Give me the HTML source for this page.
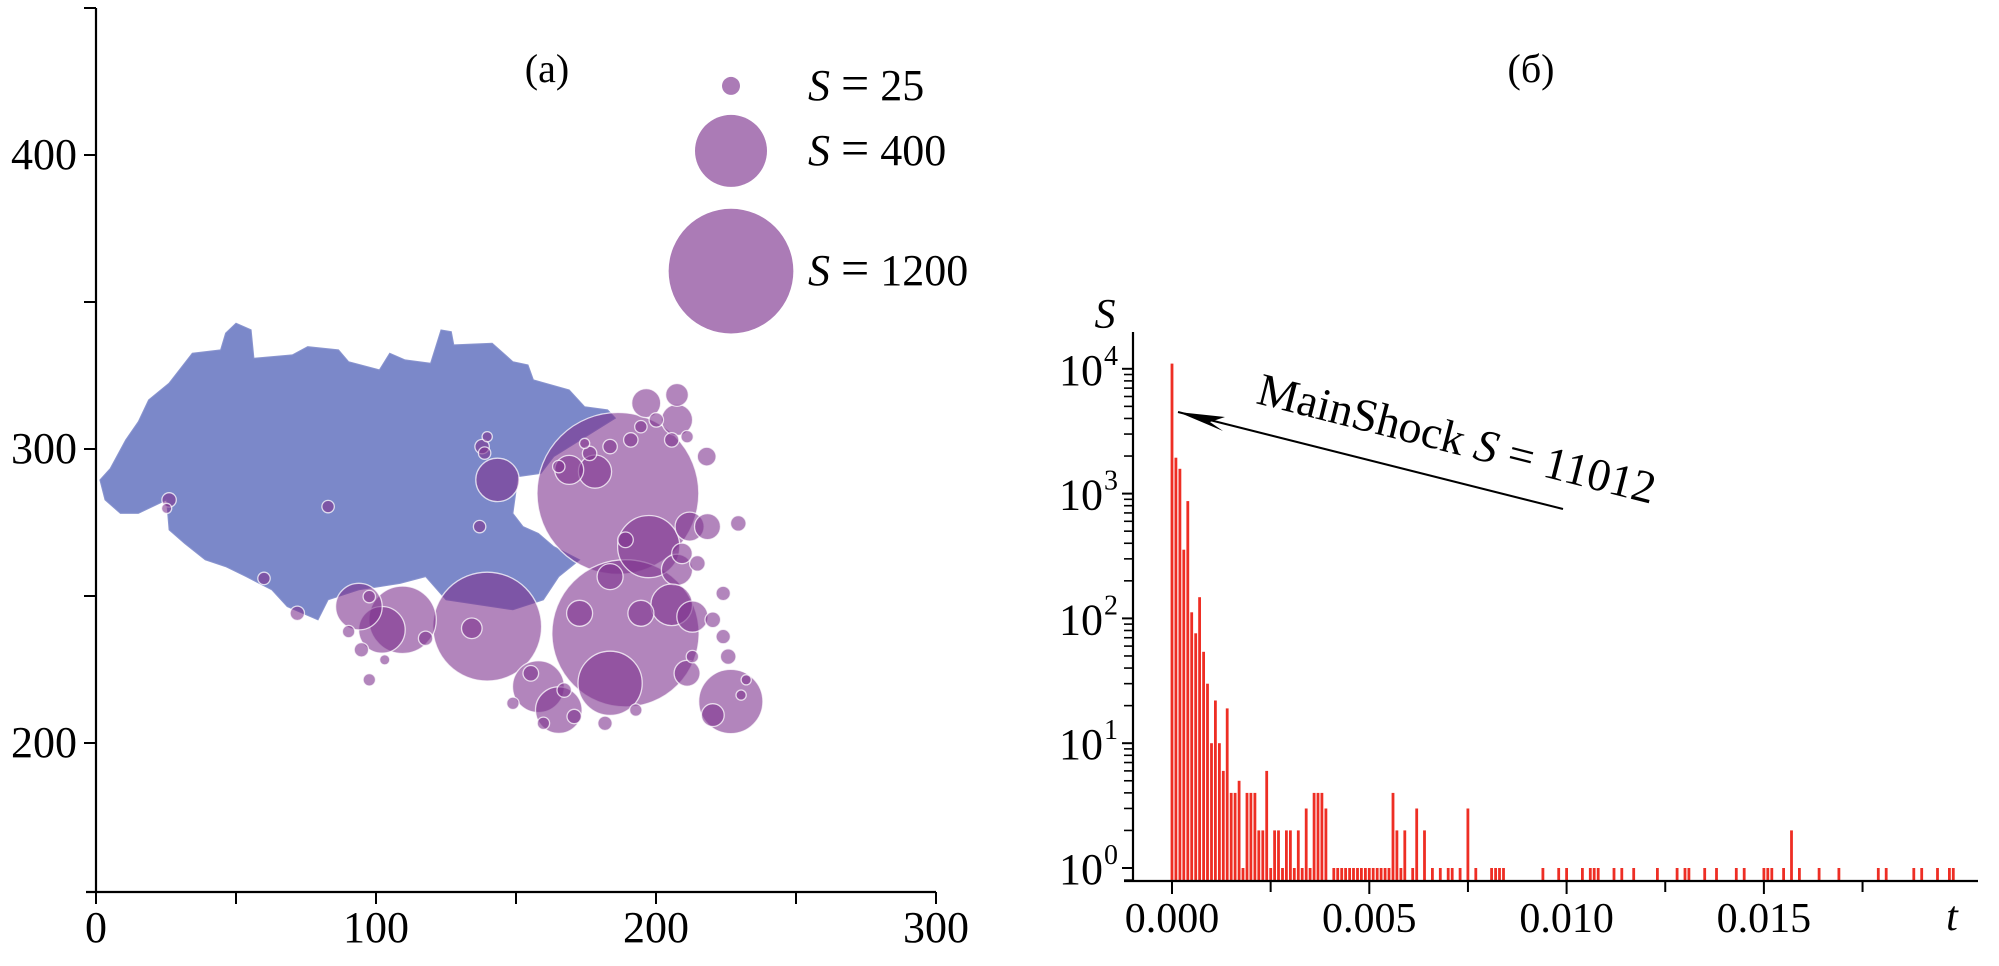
<!DOCTYPE html>
<html><head><meta charset="utf-8">
<style>
html,body{margin:0;padding:0;background:#fff;}
svg{display:block;font-family:"Liberation Serif","DejaVu Serif",serif;}
</style></head>
<body>
<svg id="fig" width="1999" height="966" viewBox="0 0 1999 966" xmlns="http://www.w3.org/2000/svg">
  <g id="left"></g>
  <g id="right"></g>
</svg>
<script>
// ---------- Panel (a) data ----------
const xTicksA = [0, 100, 200, 300];
const yTicksA = [200, 300, 400];
const xMinorA = [50, 150, 250];
const yMinorA = [250, 350, 450];
// blob outline (data coords)
const blobU = [1.4,5.1,10.6,15.1,18.8,26.1,34.4,44.5,46.3,50.0,55.4,56.4,70.1,75.6,86.6,90.2,101.2,104.9,110.4,119.5,123.2,126.9,127.8,141.5,148.9,154.3,156.2,169.0,174.5,182.7,185.5,163.5,158.9,150.7,148.9,152.5,158.0,163.5,172.7,165.3,159.8,148.9,125.0,117.7,108.6,93.9,82.9,79.3,68.3,62.8,53.6,46.3,39.0,31.6,26.1,25.2,15.1,8.7,3.2];
const blobV = [289.5,293.4,303.1,309.3,316.7,322.4,332.6,333.7,339.4,342.8,340.5,330.9,332.0,334.8,333.7,329.7,326.9,332.6,330.3,329.2,340.5,339.9,335.4,336.0,329.7,328.6,323.5,320.1,314.4,313.3,310.5,297.4,291.7,290.6,278.1,273.6,271.3,266.8,262.3,256.6,248.7,245.3,248.7,256.6,254.3,252.1,248.7,241.9,246.4,252.1,256.6,260.0,262.3,267.9,272.5,282.7,278.1,278.1,282.7];
// events (centre u, v and size S)
const evU = [186.4,189.1,139.7,109.5,102.1,93.9,143.4,197.4,183.6,226.7,158.0,165.3,196.5,207.5,178.2,169.0,212.0,218.4,207.5,205.6,213.0,172.7,194.6,134.2,207.5,218.1,225.8,211.1,220.3,183.6,189.1,
 209.3,214.8,220.3,224.0,229.4,224.0,167.2,170.8,192.8,159.8,155.3,148.9,176.3,183.6,191.0,194.6,200.1,211.1,165.3,174.5,137.9,139.7,138.8,137.0,117.7,90.2,94.8,97.6,103.1,97.6,71.9,82.9,26.1,25.2,60.0,232.2,230.4,213.0,181.8,205.6];
const evV = [284.9,237.3,239.6,241.9,238.5,246.4,289.5,266.8,220.3,214.1,219.2,211.2,315.6,309.9,292.3,292.9,273.6,273.6,258.9,247.0,243.0,244.1,244.1,239.0,318.4,297.4,229.4,223.7,209.5,256.6,269.1,
 264.5,261.1,241.9,250.9,274.7,236.2,218.0,209.0,211.2,206.7,223.7,213.5,298.5,300.8,303.1,307.6,309.9,304.2,294.0,301.9,300.8,304.2,298.6,273.6,235.6,237.9,231.7,221.5,228.3,249.8,244.1,280.4,282.7,279.8,256.0,221.5,216.3,229.4,206.7,303.1];
const evS = [2020,1673,914,350,168,168,146,299,319,319,207,168,65,75,85,65,65,52,75,133,75,52,52,33,40,27,19,52,40,52,19,
 33,19,19,16,19,16,16,16,12,12,19,12,16,16,16,12,16,12,12,8,16,8,12,12,16,12,16,12,8,12,16,12,16,8,12,8,8,12,16,16];
const legendS = [25, 400, 1200];
const legendV = [423.5, 401.4, 360.5];

// ---------- Panel (b) data ----------
const yDecades = [0, 1, 2, 3, 4];
const xTickB = [0.000, 0.005, 0.010, 0.015];
const xTickBLabels = ["0.000", "0.005", "0.010", "0.015"];
const xMinorB = [0.0025, 0.0075, 0.0125, 0.0175];
const barT = [0.0000,0.0001,0.0002,0.0003,0.0004,0.0005,0.0006,0.0007,0.0008,0.0009,0.0010,0.0011,0.0012,0.0013,0.0014,0.0015,0.0016,0.0017,0.0018,0.0019,0.0020,0.0021,0.0022,0.0023,0.0024,0.0025,0.0026,0.0027,0.0028,0.0029,0.0030,0.0031,0.0032,0.0033,0.0034,0.0035,0.0036,0.0037,0.0038,0.0039,
 0.0041,0.0042,0.0043,0.0044,0.0045,0.0046,0.0047,0.0048,0.0049,0.0050,0.0051,0.0052,0.0053,0.0054,0.0055,0.0056,0.0057,0.0058,0.0059,0.0061,0.0062,0.0064,0.0066,0.0068,0.0070,0.0071,0.0073,0.0075,0.0077,
 0.0081,0.0082,0.0083,0.0084,0.0094,0.0098,0.0100,0.0104,0.0106,0.0107,0.0108,0.0112,0.0114,0.0117,0.0123,0.0128,0.0130,0.0131,0.0135,0.0138,0.0143,0.0145,0.0150,0.0151,0.0152,0.0155,0.0157,0.0159,0.0164,0.0169,0.0179,0.0181,0.0188,0.0190,0.0194,0.0197,0.0198];
const barS = [11012,1940,1580,355,870,112,76,148,54,30,10,22,10,6,19,4,4,5,1,4,4,4,2,2,6,1,2,2,1,2,2,1,2,1,3,1,4,4,4,3,
 1,1,1,1,1,1,1,1,1,1,1,1,1,1,1,4,2,1,2,1,3,2,1,1,1,1,1,3,1,
 1,1,1,1,1,1,1,1,1,1,1,1,1,1,1,1,1,1,1,1,1,1,1,1,1,1,2,1,1,1,1,1,1,1,1,1,1];

const NS = "http://www.w3.org/2000/svg";
function mk(tag, attrs, parent){ const e=document.createElementNS(NS,tag); for(const k in attrs) e.setAttribute(k,attrs[k]); parent.appendChild(e); return e; }

// ---------- Panel (a) ----------
const L = document.getElementById('left');
const xA = u => 96 + u*2.8;
const yA = v => 743 - (v-200)*2.94;
const rS = s => 1.8*Math.sqrt(s);

let pts = blobU.map((u,i)=> xA(u).toFixed(1)+','+yA(blobV[i]).toFixed(1)).join(' ');
const blob = mk('polygon',{points:pts, fill:'#7b88c9', stroke:'#8a95cf','stroke-width':1}, L);



for(let i=0;i<evU.length;i++){
  const c = mk('circle',{cx:xA(evU[i]).toFixed(1), cy:yA(evV[i]).toFixed(1), r:rS(evS[i]).toFixed(1), fill:'rgba(126,52,143,0.6)', stroke:'rgba(255,255,255,0.75)','stroke-width':1.3}, L);
  
  
}
// axes
const axA = mk('path',{d:`M96 ${yA(450)} V892 M86 892 H${xA(300)}`, stroke:'#000','stroke-width':2.2, fill:'none'}, L);


yTicksA.concat(yMinorA).forEach(v=>{
  const t=mk('line',{x1:84,x2:96,y1:yA(v),y2:yA(v),stroke:'#000','stroke-width':2},L);
  
  
});
xTicksA.concat(xMinorA).forEach(u=>{
  const t=mk('line',{x1:xA(u),x2:xA(u),y1:892,y2:904,stroke:'#000','stroke-width':2},L);
  
  
});
yTicksA.forEach(v=>{
  const t=mk('text',{x:77,y:yA(v)+14,'text-anchor':'end','font-size':44},L);
  t.textContent=v;
  
  
});
xTicksA.forEach(u=>{
  const t=mk('text',{x:xA(u),y:942,'text-anchor':'middle','font-size':44},L);
  t.textContent=u;
  
  
});
const ta = mk('text',{x:547,y:82,'text-anchor':'middle','font-size':40},L);
ta.textContent='(a)';


// legend
legendS.forEach((s,i)=>{
  const cy = yA(legendV[i]);
  const c=mk('circle',{cx:731,cy:cy,r:rS(s),fill:'#ab7bb6'},L);
  
  
  const t=mk('text',{x:808,y:cy+14,'font-size':44},L);
  t.innerHTML='<tspan font-style="italic">S</tspan> <tspan font-size="50">=</tspan> '+s;
  
  
});

// ---------- Panel (b) ----------
const R = document.getElementById('right');
const xB = t => 1172 + t*39460;
const yB = s => 868 - Math.log10(s)*124.8;
const base = 881;
barT.forEach((t,i)=>{
  const y = yB(barS[i]);
  const b=mk('rect',{x:(xB(t)-1.4).toFixed(1),y:y.toFixed(1),width:2.8,height:(base-y).toFixed(1),fill:'#ee2e24'},R);
  
  
});
const axB=mk('path',{d:`M1133 332 V${base} M1124 ${base} H1978`,stroke:'#000','stroke-width':2.2,fill:'none'},R);


yDecades.forEach(d=>{
  const y=yB(Math.pow(10,d));
  const t=mk('line',{x1:1122,x2:1133,y1:y,y2:y,stroke:'#000','stroke-width':2},R);
  
  
  for(let m=2;m<=9;m++){
    const ym=yB(m*Math.pow(10,d));
    if(ym<332) continue;
    const mt=mk('line',{x1:1124,x2:1133,y1:ym,y2:ym,stroke:'#000','stroke-width':1.6},R);
    
    
  }
  const lbl=mk('text',{x:1103,y:y+16,'text-anchor':'end','font-size':44},R);
  lbl.textContent='10';
  
  
  const sup=mk('text',{x:1104,y:y-4,'font-size':28},R);
  sup.textContent=d;
  
  
});
const tt=mk('line',{x1:1124,x2:1133,y1:yB(0.8),y2:yB(0.8),stroke:'#000','stroke-width':1.6},R);


xTickB.forEach((t,i)=>{
  const k=mk('line',{x1:xB(t),x2:xB(t),y1:base,y2:base+13,stroke:'#000','stroke-width':2},R);
  
  
  const l=mk('text',{x:xB(t),y:932,'text-anchor':'middle','font-size':42},R);
  l.textContent=xTickBLabels[i];
  
  
});
xMinorB.forEach(t=>{
  const k=mk('line',{x1:xB(t),x2:xB(t),y1:base,y2:base+11,stroke:'#000','stroke-width':2},R);
  
  
});
const sl=mk('text',{x:1105,y:328,'text-anchor':'middle','font-size':42,'font-style':'italic'},R);
sl.textContent='S';


const tl=mk('text',{x:1952,y:930,'text-anchor':'middle','font-size':42,'font-style':'italic'},R);
tl.textContent='t';


const tb=mk('text',{x:1531,y:82,'text-anchor':'middle','font-size':40},R);
tb.textContent='(б)';


// annotation arrow
const tipX = xB(barT[0])+6, tipY = 412;
const ar=mk('line',{x1:1563,y1:509,x2:tipX,y2:tipY,stroke:'#000','stroke-width':2},R);


const ah=mk('polygon',{points:`${tipX},${tipY} ${tipX+47},${tipY+5} ${tipX+32},${tipY+10} ${tipX+45},${tipY+19}`,fill:'#000'},R);


const an=mk('text',{transform:'translate(1255,403) rotate(14.3)','font-size':46},R);
an.innerHTML='MainShock <tspan font-style="italic">S</tspan> = 11012';


</script>
</body></html>
